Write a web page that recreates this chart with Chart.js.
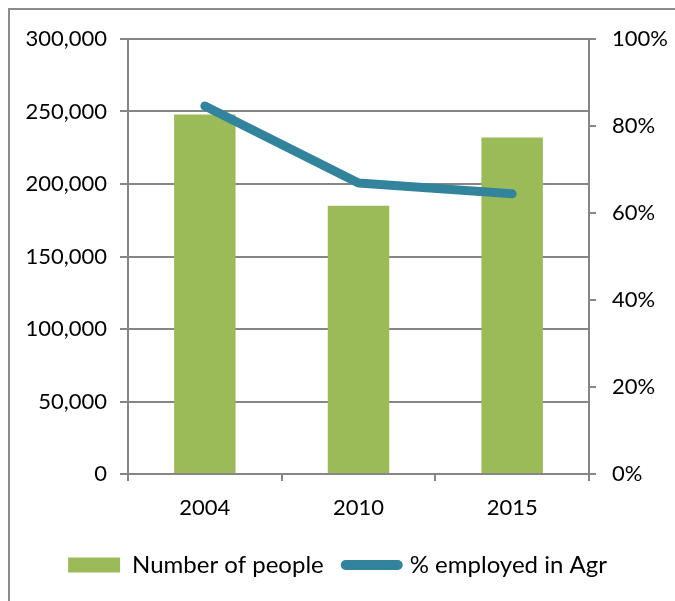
<!DOCTYPE html>
<html>
<head>
<meta charset="utf-8">
<script src="https://cdn.jsdelivr.net/npm/chart.js@4/dist/chart.umd.min.js"></script>
<style>
  html, body { margin: 0; padding: 0; background: #fff; overflow: hidden; }
  #wrap { position: relative; width: 675px; height: 601px; }
  #frame { position: absolute; left: 8px; top: 8px; width: 700px; height: 700px;
           border-left: 2px solid #8c8c8c; border-top: 2px solid #8c8c8c; }
  canvas { position: absolute; left: 0; top: 0; }
</style>
</head>
<body>
<div id="wrap">
  <div id="frame"></div>
  <canvas id="Chart" width="675" height="601"></canvas>
</div>
<script>
var years = ["2004", "2010", "2015"];
var people = [248000, 185000, 232000];
var pctAgr = [84.6, 66.9, 64.4];

var grey = "#868686";
var tickFont = { family: "Lato", size: 22 };
var legendFont = { family: "Lato", size: 24 };

var ctx = document.getElementById("Chart").getContext("2d");
var chart = new Chart(ctx, {
    type: "bar",
    data: {
        labels: years,
        datasets: [{
            label: "Number of people",
            data: people,
            backgroundColor: "#9BBB59",
            borderWidth: 0,
            barPercentage: 0.4,
            categoryPercentage: 1,
            pointStyle: "rect",
            yAxisID: "y",
            order: 1
        }, {
            label: "% employed in Agr",
            type: "line",
            data: pctAgr,
            borderColor: "#31849B",
            backgroundColor: "#31849B",
            borderWidth: 9,
            borderCapStyle: "round",
            borderJoinStyle: "round",
            pointRadius: 0,
            pointStyle: "line",
            tension: 0,
            fill: false,
            yAxisID: "y1",
            order: 0
        }]
    },
    options: {
        responsive: false,
        animation: false,
        devicePixelRatio: 1,
        layout: { padding: { top: 39, bottom: 14, left: 0, right: 0 } },
        plugins: {
            tooltip: { enabled: false },
            legend: {
                position: "bottom",
                labels: {
                    usePointStyle: true,
                    pointStyleWidth: 52,
                    boxHeight: 15,
                    padding: 22,
                    color: "#000",
                    font: legendFont,
                    sort: function(a, b) { return a.datasetIndex - b.datasetIndex; },
                    generateLabels: function(c) {
                        var items = Chart.defaults.plugins.legend.labels.generateLabels(c);
                        items.forEach(function(it) {
                            if (it.pointStyle === "line") {
                                it.lineWidth = 10;
                                it.lineCap = "round";
                            } else {
                                it.lineWidth = 0;
                            }
                        });
                        return items;
                    }
                }
            }
        },
        scales: {
            x: {
                offset: true,
                grid: { offset: true, drawOnChartArea: false, drawTicks: true, tickLength: 7, color: grey, lineWidth: 2 },
                border: { display: true, color: grey, width: 2 },
                ticks: { color: "#000", font: tickFont, padding: 14 },
                afterFit: function(s) { s.height = 57; }
            },
            y: {
                position: "left",
                min: 0,
                max: 300000,
                grid: { drawOnChartArea: true, drawTicks: true, tickLength: 8, color: grey, lineWidth: 2 },
                border: { display: true, color: grey, width: 2 },
                ticks: {
                    stepSize: 50000,
                    color: "#000",
                    font: tickFont,
                    padding: 13,
                    callback: function(v) { return v.toLocaleString("en-US"); }
                },
                afterFit: function(s) { s.width = 128; }
            },
            y1: {
                position: "right",
                min: 0,
                max: 100,
                grid: { drawOnChartArea: false, drawTicks: true, tickLength: 7, color: grey, lineWidth: 2 },
                border: { display: true, color: grey, width: 2 },
                ticks: {
                    stepSize: 20,
                    color: "#000",
                    font: tickFont,
                    padding: 16,
                    callback: function(v) { return v + "%"; }
                },
                afterFit: function(s) { s.width = 86; }
            }
        }
    }
});
</script>
</body>
</html>
